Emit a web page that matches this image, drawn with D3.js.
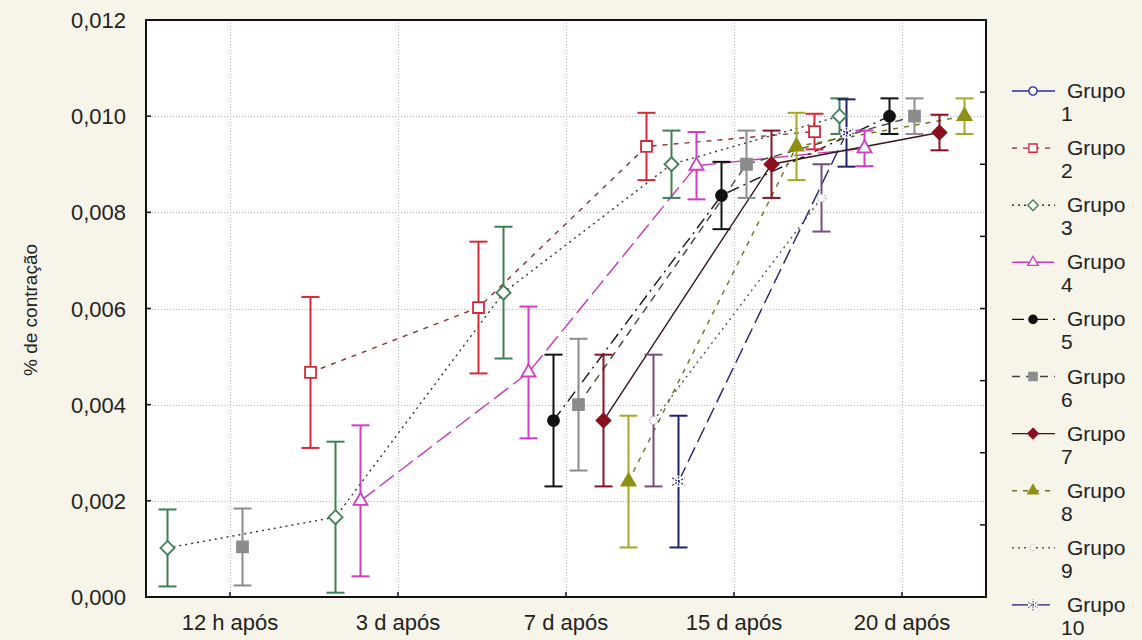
<!DOCTYPE html>
<html>
<head>
<meta charset="utf-8">
<script src="https://cdn.jsdelivr.net/npm/d3@7"></script>
<style>
  html, body { margin: 0; padding: 0; background: #f7f4ea; }
  svg { display: block; }
  text { font-family: "Liberation Sans", Arial, sans-serif; fill: #222; }
</style>
</head>
<body>
<svg id="chart" width="1142" height="640"></svg>
<script>
// Time points (x categories)
const categories = ["12 h após", "3 d após", "7 d após", "15 d após", "20 d após"];

// Group names
const groupNames = ["Grupo 1", "Grupo 2", "Grupo 3", "Grupo 4", "Grupo 5",
                    "Grupo 6", "Grupo 7", "Grupo 8", "Grupo 9", "Grupo 10"];

// Mean % de contração per group at each time point (null = not measured)
const grupo1  = [null,    null,    null,    null,    null];
const grupo2  = [null,    0.00467, 0.00602, 0.00937, 0.00968];
const grupo3  = [0.00102, 0.00166, 0.00633, 0.00900, 0.01000];
const grupo4  = [null,    0.00200, 0.00467, 0.00897, 0.00933];
const grupo5  = [null,    null,    0.00367, 0.00835, 0.01000];
const grupo6  = [0.00104, null,    0.00400, 0.00900, 0.01000];
const grupo7  = [null,    null,    0.00367, 0.00900, 0.00966];
const grupo8  = [null,    null,    0.00240, 0.00937, 0.01000];
const grupo9  = [null,    null,    0.00367, 0.00830, null];
const grupo10 = [null,    null,    0.00240, 0.00965, null];

// Half-width of the error bars at each time point (pooled per time point)
const errHalf = [0.00080, 0.00157, 0.00137, 0.00070, 0.00037];

// Y axis tick values
const yTicks = [0, 0.002, 0.004, 0.006, 0.008, 0.010, 0.012];

const seriesValues = [grupo1, grupo2, grupo3, grupo4, grupo5,
                      grupo6, grupo7, grupo8, grupo9, grupo10];

// Visual style for each group: line, marker and error-bar appearance
const styles = [
  { line: "#2a2aa8", dash: null,         bar: "#2a2aa8", sym: "circle",   fill: "#fff",    stroke: "#2a2aa8" },
  { line: "#8a3030", dash: "5,6",        bar: "#d42a3a", sym: "square",   fill: "#fff",    stroke: "#d42a3a" },
  { line: "#333",    dash: "2,4",        bar: "#3f7f55", sym: "diamond",  fill: "#fff",    stroke: "#3f7f55" },
  { line: "#c838b8", dash: "18,6",       bar: "#d23cc4", sym: "triangle", fill: "#fff",    stroke: "#d23cc4" },
  { line: "#111",    dash: "12,5,2,5",   bar: "#111",    sym: "circle",   fill: "#111",    stroke: "#111" },
  { line: "#444",    dash: "8,6",        bar: "#8c8c8c", sym: "square",   fill: "#8c8c8c", stroke: "#8c8c8c" },
  { line: "#3a1418", dash: null,         bar: "#8a1020", sym: "diamond",  fill: "#8a1020", stroke: "#8a1020" },
  { line: "#6e6e1e", dash: "5,6",        bar: "#a6a628", sym: "triangle", fill: "#8f8f14", stroke: "#8f8f14" },
  { line: "#555",    dash: "2,4",        bar: "#7a4a7a", sym: "dot",      fill: "#fff",    stroke: "#888" },
  { line: "#22226a", dash: "16,6",       bar: "#22226a", sym: "star",     fill: "#fff",    stroke: "#22226a" }
];

const plot = { left: 146, right: 986, top: 20, bottom: 597 };

const svg = d3.select("#chart");

const x = d3.scaleBand().domain(categories).range([plot.left, plot.right]).paddingInner(0).paddingOuter(0);
const dodge = d3.scalePoint().domain(groupNames).range([-112.5, 112.5]);
const y = d3.scaleLinear().domain([0, 0.012]).range([plot.bottom, plot.top]);

const ptFmt = d3.formatLocale({ decimal: ",", thousands: ".", grouping: [3], currency: ["", ""] }).format(".3f");

// plot background
svg.append("rect")
  .attr("x", plot.left).attr("y", plot.top)
  .attr("width", plot.right - plot.left).attr("height", plot.bottom - plot.top)
  .attr("fill", "#fff");

// grid lines
const grid = svg.append("g").attr("stroke", "#b8b8b8").attr("stroke-width", 1).attr("stroke-dasharray", "1,2");
grid.selectAll("line.gy").data(yTicks.slice(1, -1)).join("line")
  .attr("x1", plot.left).attr("x2", plot.right)
  .attr("y1", d => Math.round(y(d)) + 0.5).attr("y2", d => Math.round(y(d)) + 0.5);
grid.selectAll("line.gx").data(categories).join("line")
  .attr("x1", d => Math.round(x(d) + x.bandwidth() / 2) + 0.5)
  .attr("x2", d => Math.round(x(d) + x.bandwidth() / 2) + 0.5)
  .attr("y1", plot.top).attr("y2", plot.bottom);

// clip to plot area
svg.append("clipPath").attr("id", "clip").append("rect")
  .attr("x", plot.left).attr("y", plot.top)
  .attr("width", plot.right - plot.left).attr("height", plot.bottom - plot.top);
const area = svg.append("g").attr("clip-path", "url(#clip)");

// build point records
const series = groupNames.map((name, gi) => ({
  name, gi, style: styles[gi],
  points: categories.map((c, ci) => ({
    cat: c, ci, v: seriesValues[gi][ci],
    px: x(c) + x.bandwidth() / 2 + dodge(name)
  }))
}));

// connecting lines
const line = d3.line().defined(d => d.v != null).x(d => d.px).y(d => y(d.v));
area.selectAll("path.series").data(series).join("path")
  .attr("class", "series")
  .attr("fill", "none")
  .attr("stroke", d => d.style.line)
  .attr("stroke-width", 1.4)
  .attr("stroke-dasharray", d => d.style.dash)
  .attr("d", d => line(d.points));

// error bars
const capW = 9;
series.forEach(s => {
  const pts = s.points.filter(p => p.v != null);
  const g = area.append("g").attr("stroke", s.style.bar).attr("stroke-width", 2).attr("fill", "none");
  pts.forEach(p => {
    const e = errHalf[p.ci];
    const yt = y(p.v + e), yb = y(p.v - e);
    g.append("line").attr("x1", p.px).attr("x2", p.px).attr("y1", yt).attr("y2", yb);
    g.append("line").attr("x1", p.px - capW).attr("x2", p.px + capW).attr("y1", yt).attr("y2", yt);
    g.append("line").attr("x1", p.px - capW).attr("x2", p.px + capW).attr("y1", yb).attr("y2", yb);
  });
});

// marker drawing (k scales the symbol)
function drawMarker(sel, st, cx, cy, k) {
  const g = sel.append("g").attr("transform", `translate(${cx},${cy}) scale(${k})`);
  if (st.sym === "star") {
    g.append("circle").attr("r", 6).attr("fill", "#fff");
    g.append("path").attr("d", d3.symbol(d3.symbolAsterisk, 150)())
      .attr("fill", "none").attr("stroke", st.stroke).attr("stroke-width", 1.3)
      .attr("stroke-dasharray", "2,1.5");
    return;
  }
  if (st.sym === "dot") {
    g.append("circle").attr("r", 4).attr("fill", st.fill)
      .attr("stroke", st.stroke).attr("stroke-width", 1).attr("stroke-dasharray", "1.5,1.5");
    return;
  }
  let d;
  if (st.sym === "diamond") {
    const s = 7;
    d = `M0,${-s}L${s},0L0,${s}L${-s},0Z`;
  } else {
    const types = { circle: d3.symbolCircle, square: d3.symbolSquare, triangle: d3.symbolTriangle };
    const sizes = { circle: 95, square: 120, triangle: 85 };
    d = d3.symbol(types[st.sym], sizes[st.sym])();
  }
  g.append("path").attr("d", d)
    .attr("fill", st.fill).attr("stroke", st.stroke).attr("stroke-width", 1.8);
}

series.forEach(s => {
  s.points.filter(p => p.v != null).forEach(p => drawMarker(area, s.style, p.px, y(p.v), 1));
});

// frame
svg.append("rect")
  .attr("x", plot.left).attr("y", plot.top)
  .attr("width", plot.right - plot.left).attr("height", plot.bottom - plot.top)
  .attr("fill", "none").attr("stroke", "#111").attr("stroke-width", 2);

// inner tick marks: left axis, bottom axis, right axis
const ticks = svg.append("g").attr("stroke", "#111").attr("stroke-width", 1.5);
ticks.selectAll("line.ly").data(yTicks).join("line")
  .attr("x1", plot.left).attr("x2", plot.left + 5)
  .attr("y1", d => y(d)).attr("y2", d => y(d));
ticks.selectAll("line.bx").data(categories).join("line")
  .attr("x1", d => x(d) + x.bandwidth() / 2).attr("x2", d => x(d) + x.bandwidth() / 2)
  .attr("y1", plot.bottom).attr("y2", plot.bottom - 5);
const rightTicks = d3.range(0, 0.0120001, 0.0015);
ticks.selectAll("line.ry").data(rightTicks).join("line")
  .attr("x1", plot.right).attr("x2", plot.right - 6)
  .attr("y1", d => y(d)).attr("y2", d => y(d));

// y tick labels
svg.append("g").selectAll("text").data(yTicks).join("text")
  .attr("x", 126).attr("y", d => y(d) + 8)
  .attr("text-anchor", "end")
  .attr("font-size", 22)
  .text(d => ptFmt(d));

// x tick labels
svg.append("g").selectAll("text").data(categories).join("text")
  .attr("x", d => x(d) + x.bandwidth() / 2)
  .attr("y", 630)
  .attr("text-anchor", "middle")
  .attr("font-size", 22)
  .text(d => d);

// y axis title
svg.append("text")
  .attr("transform", "translate(37,310) rotate(-90)")
  .attr("text-anchor", "middle")
  .attr("font-size", 19)
  .text("% de contração");

// legend
const legStep = 57.1, legTop = 91;
const leg = svg.append("g");
series.forEach((s, i) => {
  const cy = legTop + i * legStep;
  const st = s.style;
  leg.append("line")
    .attr("x1", 1012).attr("x2", 1055).attr("y1", cy).attr("y2", cy)
    .attr("stroke", st.line).attr("stroke-width", 1.4)
    .attr("stroke-dasharray", st.dash);
  drawMarker(leg, st, 1033, cy, 0.75);
  const parts = s.name.split(" ");
  leg.append("text").attr("x", 1067).attr("y", cy + 7).attr("font-size", 21).text(parts[0]);
  leg.append("text").attr("x", 1061).attr("y", cy + 30).attr("font-size", 21).text(parts[1]);
});
</script>
</body>
</html>
